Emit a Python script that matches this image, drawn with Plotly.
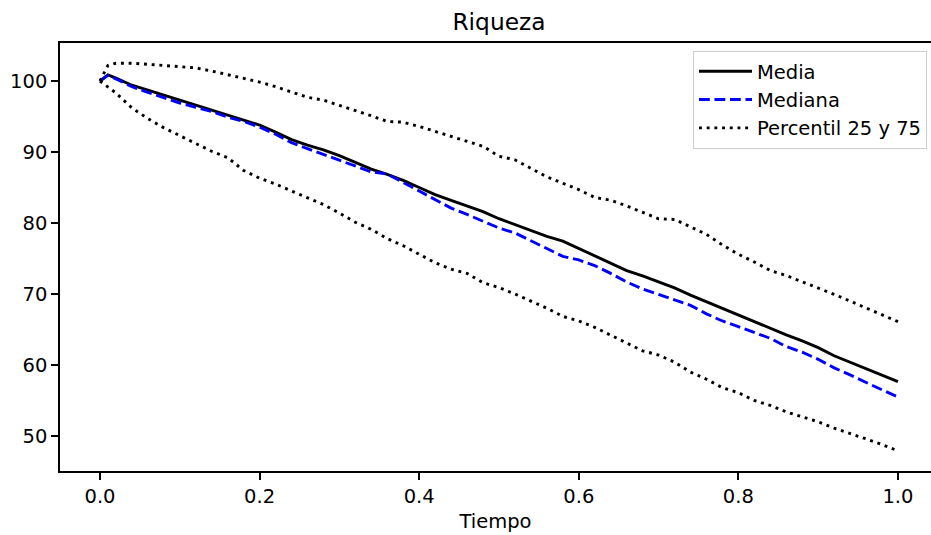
import plotly.graph_objects as go

tiempo = [0.0, 0.01, 0.02, 0.04, 0.06, 0.08, 0.10, 0.12, 0.14, 0.16, 0.18, 0.20,
          0.22, 0.24, 0.26, 0.28, 0.30, 0.32, 0.34, 0.36, 0.38, 0.40, 0.42, 0.44,
          0.46, 0.48, 0.50, 0.52, 0.54, 0.56, 0.58, 0.60, 0.62, 0.64, 0.66, 0.68,
          0.70, 0.72, 0.74, 0.76, 0.78, 0.80, 0.82, 0.84, 0.86, 0.88, 0.90, 0.92,
          0.94, 0.96, 0.98, 1.00]

media = [100.0, 100.85, 100.4, 99.4, 98.7, 98.0, 97.35, 96.65, 95.95, 95.3, 94.6, 93.8,
         92.8, 91.75, 90.95, 90.3, 89.5, 88.6, 87.6, 86.85, 86.0, 85.0, 84.0, 83.2,
         82.4, 81.6, 80.6, 79.75, 78.9, 78.1, 77.45, 76.4, 75.35, 74.3, 73.3, 72.55,
         71.75, 70.85, 69.85, 68.9, 68.0, 67.1, 66.1, 65.15, 64.25, 63.4, 62.45, 61.3,
         60.4, 59.55, 58.6, 57.65]

mediana = [100.0, 100.8, 100.3, 99.2, 98.4, 97.6, 96.9, 96.3, 95.7, 94.9, 94.3, 93.5,
           92.5, 91.3, 90.5, 89.6, 88.8, 88.0, 87.2, 86.9, 85.7, 84.5, 83.3, 82.1,
           81.2, 80.2, 79.3, 78.6, 77.5, 76.3, 75.3, 74.8, 74.0, 72.9, 71.7, 70.7,
           69.9, 69.1, 68.4, 67.2, 66.2, 65.4, 64.6, 63.75, 62.6, 61.8, 60.8, 59.6,
           58.6, 57.5, 56.5, 55.5]

p75 = [100.0, 102.2, 102.5, 102.5, 102.35, 102.2, 102.0, 101.85, 101.4, 100.9, 100.4, 99.85,
       99.2, 98.5, 97.7, 97.3, 96.6, 95.8, 95.1, 94.3, 94.2, 93.6, 92.9, 92.2,
       91.5, 90.8, 89.4, 88.9, 87.7, 86.5, 85.6, 84.7, 83.6, 83.2, 82.4, 81.5,
       80.6, 80.5, 79.5, 78.4, 76.9, 75.6, 74.5, 73.3, 72.6, 71.75, 70.9, 69.95,
       69.0, 68.05, 67.1, 66.1]

p25 = [100.0, 99.2, 98.3, 96.2, 94.7, 93.4, 92.3, 91.3, 90.1, 89.2, 87.4, 86.3,
       85.5, 84.5, 83.6, 82.6, 81.4, 80.1, 79.1, 77.8, 76.8, 75.6, 74.4, 73.5,
       72.9, 71.6, 70.9, 70.0, 69.0, 68.0, 66.85, 66.2, 65.3, 64.2, 63.1, 62.0,
       61.4, 60.4, 59.0, 58.0, 56.8, 56.1, 55.0, 54.3, 53.4, 52.7, 52.0, 51.1,
       50.4, 49.6, 48.8, 47.9]

x_ticks = [0.0, 0.2, 0.4, 0.6, 0.8, 1.0]
y_ticks = [50, 60, 70, 80, 90, 100]

FONT = "DejaVu Sans"

fig = go.Figure()
fig.add_trace(go.Scatter(x=tiempo, y=media, mode="lines", name="Media",
                         line=dict(color="#000000", width=2.9)))
fig.add_trace(go.Scatter(x=tiempo, y=mediana, mode="lines", name="Mediana",
                         line=dict(color="#0000ff", width=2.9, dash="10.8px,4.7px")))
fig.add_trace(go.Scatter(x=tiempo, y=p75, mode="lines", name="Percentil 25 y 75",
                         line=dict(color="#000000", width=2.9, dash="2.9px,4.8px")))
fig.add_trace(go.Scatter(x=tiempo, y=p25, mode="lines", name="Percentil 25 y 75",
                         showlegend=False,
                         line=dict(color="#000000", width=2.9, dash="2.9px,4.8px")))

fig.update_layout(
    width=931, height=535,
    margin=dict(l=60, r=0, t=43, b=64, autoexpand=False),
    paper_bgcolor="white", plot_bgcolor="white",
    font=dict(family=FONT, size=19.5, color="black"),
    title=dict(text="Riqueza", x=0.504, xref="paper", y=1 - 22 / 535, yref="container",
               xanchor="center", yanchor="middle", font=dict(size=23.3, family=FONT)),
    showlegend=True,
    legend=dict(x=0.9954, y=(471 - 51) / 428, xanchor="right", yanchor="top", tracegroupgap=0,
                itemwidth=53,
                bgcolor="rgba(255,255,255,0.8)", bordercolor="#cccccc", borderwidth=1,
                font=dict(size=19.5, family=FONT)),
    xaxis=dict(range=[-0.0501, 1.0414], tickvals=x_ticks, tickformat=".1f", automargin=False,
               showgrid=False, zeroline=False, showline=True, linecolor="black", linewidth=1.5,
               mirror=True, ticks="outside", ticklen=7, tickwidth=1.5, tickcolor="black",
               title=dict(text="Tiempo", standoff=7, font=dict(size=19.5, family=FONT))),
    yaxis=dict(range=[45.07, 105.35], tickvals=y_ticks, automargin=False,
               showgrid=False, zeroline=False, showline=True, linecolor="black", linewidth=1.5,
               mirror=False, ticks="outside", ticklen=7, tickwidth=1.5, tickcolor="black"),
)

fig.write_html(
    "out.html",
    config={"responsive": False, "displayModeBar": False},
    post_script="document.body.style.margin='0px'; document.body.style.overflow='hidden';",
)
